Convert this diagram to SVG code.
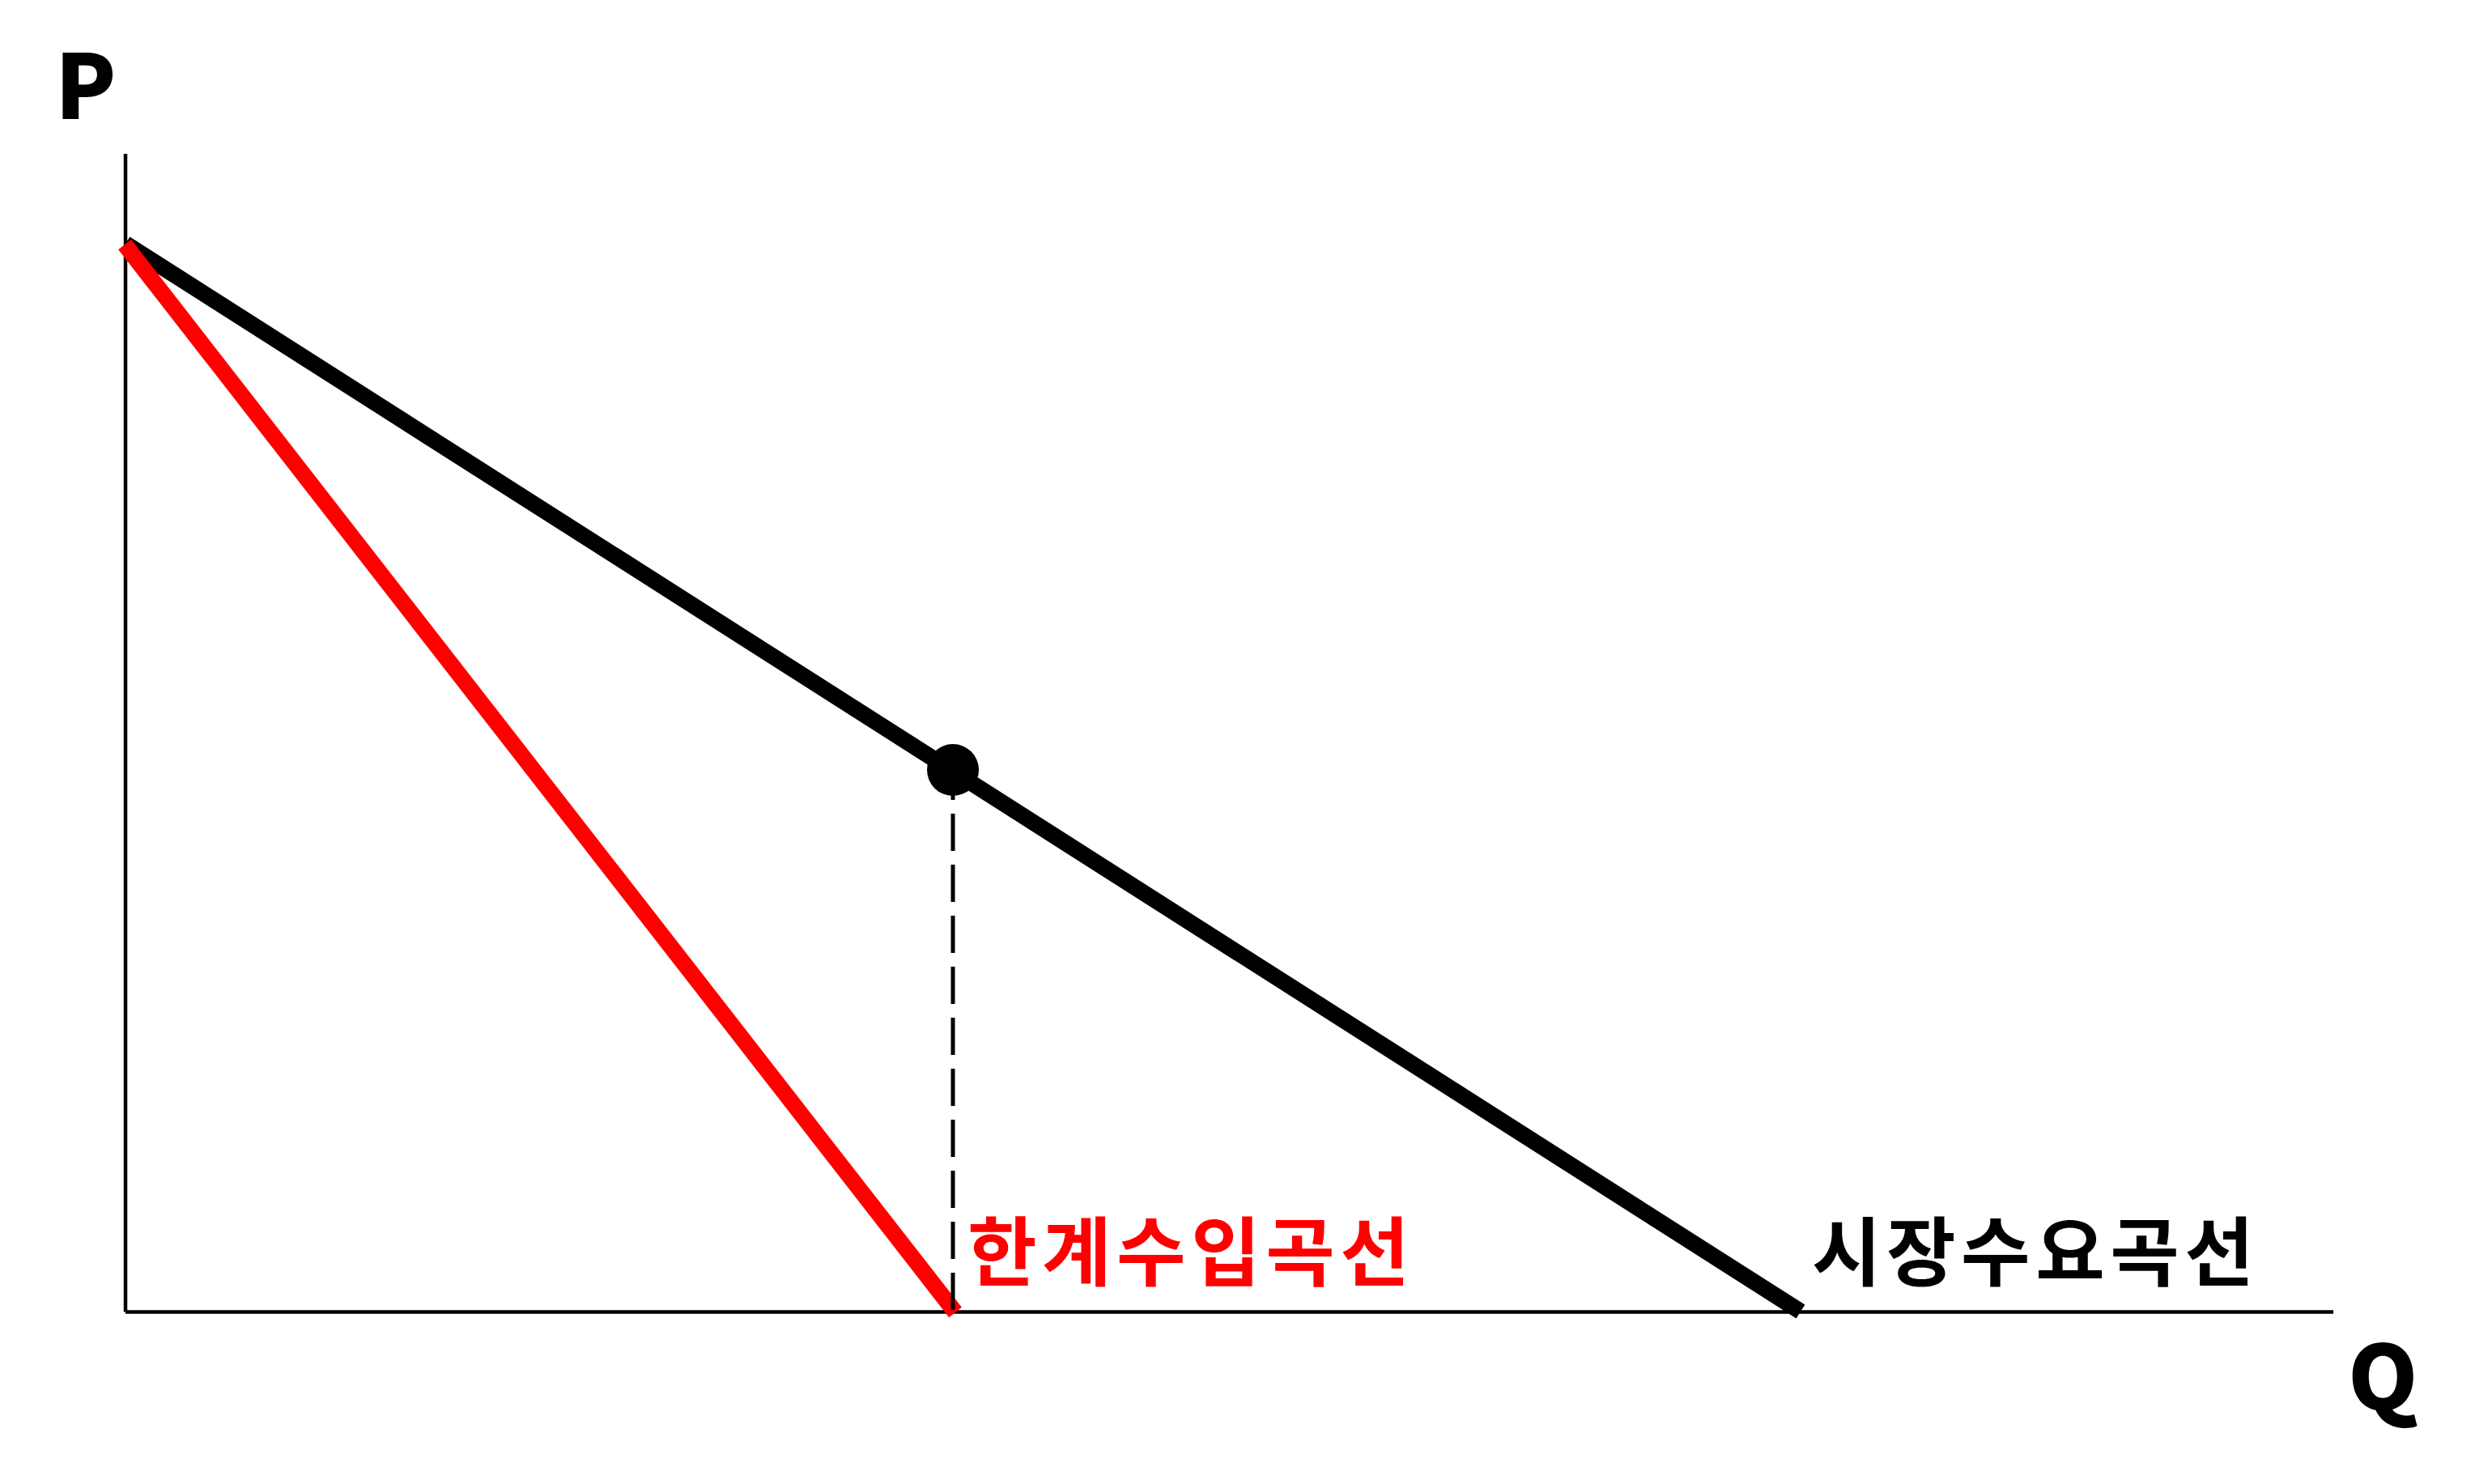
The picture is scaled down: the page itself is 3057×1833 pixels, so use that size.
<svg xmlns="http://www.w3.org/2000/svg" width="3057" height="1833" viewBox="0 0 3057 1833">
<style>
.axis{stroke:#000;stroke-width:4.5;fill:none}
.curve{stroke-width:20;fill:none;stroke-linecap:butt}
.lbl{font-family:"Noto Sans CJK KR","Noto Sans",sans-serif;font-weight:900;font-size:110px;fill:#000}
.kr{font-family:"Noto Sans CJK KR","Noto Sans",sans-serif;font-weight:bold;font-size:93px;letter-spacing:6.5px}
</style>
<rect width="3057" height="1833" fill="#fff"/>
<g id="axes">
<line class="axis" x1="155" y1="190" x2="155" y2="1620.5"/>
<line class="axis" x1="155" y1="1620.5" x2="2882" y2="1620.5"/>
</g>
<g id="connectors">
<line class="curve" stroke="#000" x1="155" y1="301" x2="2224" y2="1620"/>
<line class="curve" stroke="#f00" x1="154" y1="302" x2="1180" y2="1621"/>
<line stroke="#000" stroke-width="5" stroke-dasharray="46 17" x1="1177" y1="1618" x2="1177" y2="950"/>
</g>
<g id="point">
<circle cx="1177" cy="951" r="32" fill="#000"/>
</g>
<g id="label-P"><text class="lbl" x="68" y="147">P</text></g>
<g id="label-Q"><text class="lbl" x="2900" y="1741">Q</text></g>
<g id="label-MR"><text class="kr" x="1195" y="1581" fill="#f00">한계수입곡선</text></g>
<g id="label-D"><text class="kr" x="2238" y="1581" fill="#000">시장수요곡선</text></g>
</svg>
